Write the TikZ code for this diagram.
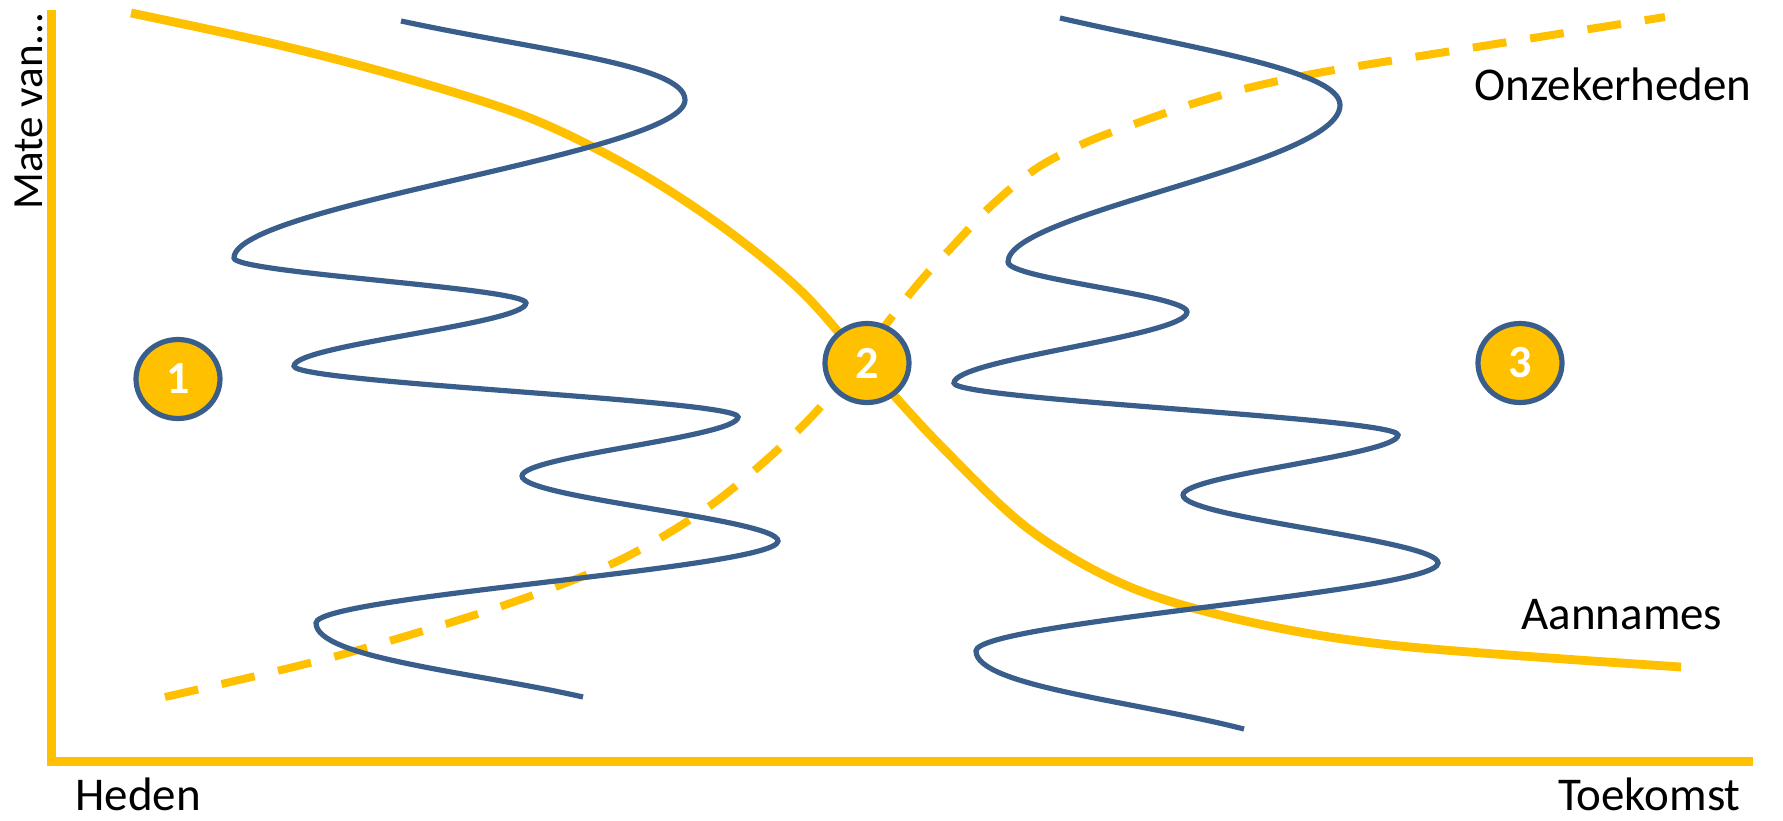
\documentclass[tikz,border=0pt]{standalone}
\usepackage{fontspec}
\setmainfont{Carlito}
\usetikzlibrary{shapes.geometric}
\definecolor{gold}{HTML}{FFC000}
\definecolor{navy}{HTML}{3A5E8C}
\tikzset{
  axisline/.style={draw=gold, line width=4.5pt, line join=miter},
  yellowline/.style={draw=gold, line width=4.4pt},
  yellowdash/.style={draw=gold, line width=4pt, dash pattern=on 17pt off 12pt},
  blueline/.style={draw=navy, line width=2.6pt},
  numcirc/.style={ellipse, fill=gold, draw=navy, line width=2.6pt, minimum width=42pt, minimum height=39.5pt, inner sep=0pt, text=white, font=\bfseries\fontsize{23}{25}\selectfont},
  lbl/.style={inner sep=0pt, text=black, font=\fontsize{23.5}{28}\selectfont}
}
\begin{document}
\begin{tikzpicture}[x=0.5pt, y=-0.5pt]
\useasboundingbox (0,0) rectangle (1783,820);
% axes
\draw[axisline] (51,10) -- (51,761) -- (1753,761);
% Aannames (solid)
\draw[yellowline] plot[smooth, tension=0.55] coordinates {(131,13) (279,45) (412,80) (530,118) (630,167) (720,225) (800,290) (866,364) (940,445) (1030,530) (1130,587) (1250,622) (1400,646) (1681,667)};
% Onzekerheden (dashed)
\draw[yellowdash] plot[smooth, tension=0.5] coordinates {(165,697) (333,657) (499,607) (620,560) (718,500) (815,413) (913,290) (952,247) (992,205) (1037,168) (1087,142) (1140,122) (1195,103) (1252,87) (1323,72) (1458,50) (1665,17)};
% blue wave left
\draw[blueline] (401,21) .. controls +(140,30) and +(0,-35) .. (685,100)
  .. controls +(0,53) and +(0,-53) .. (234,258)
  .. controls +(0,15) and +(0,-15) .. (526,303)
  .. controls +(0,21) and +(0,-21) .. (294,366)
  .. controls +(0,17) and +(0,-17) .. (738,417)
  .. controls +(0,20) and +(0,-20) .. (522,476)
  .. controls +(0,22) and +(0,-22) .. (778,541)
  .. controls +(0,27) and +(0,-27) .. (316,623)
  .. controls +(0,35) and +(-110,-25) .. (583,697);
% blue wave right
\draw[blueline] (1060,18) .. controls +(130,30) and +(0,-35) .. (1340,105)
  .. controls +(0,60) and +(0,-50) .. (1008,262)
  .. controls +(0,17) and +(0,-17) .. (1187,312)
  .. controls +(0,24) and +(0,-24) .. (954,383)
  .. controls +(0,17) and +(0,-17) .. (1398,435)
  .. controls +(0,20) and +(0,-20) .. (1183,495)
  .. controls +(0,23) and +(0,-23) .. (1438,563)
  .. controls +(0,29) and +(0,-29) .. (976,651)
  .. controls +(0,35) and +(-110,-28) .. (1244,729);
% circles
\node[numcirc] (c1) at (178,379) {1};
\node[numcirc] (c2) at (867,363) {2};
\node[numcirc] (c3) at (1520,363) {3};
% labels
\node[lbl, rotate=90, font=\fontsize{21.5}{26}\selectfont] (ylab) at (29,111) {Mate van...};
\node[lbl, anchor=base west, text depth=0pt] (heden) at (75,810) {Heden};
\node[lbl, anchor=base east, text depth=0pt] (toekomst) at (1741,810) {Toekomst};
\node[lbl, anchor=base west] (onz) at (1474,100) {Onzekerheden};
\node[lbl, anchor=base west] (aan) at (1521,629) {Aannames};
\end{tikzpicture}
\end{document}
